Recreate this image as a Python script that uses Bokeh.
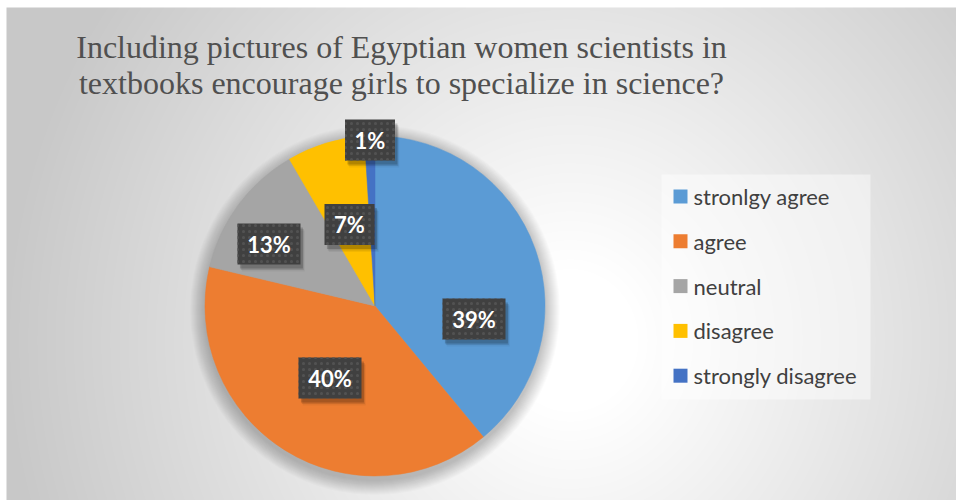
import numpy as np
from bokeh.plotting import figure
from bokeh.models import Range1d
from bokeh.core.properties import value
from bokeh.embed import file_html
from bokeh.resources import INLINE

# ---------------- data ----------------
categories = ["stronlgy agree", "agree", "neutral", "disagree", "strongly disagree"]
values = [39.0, 39.7, 12.9, 7.4, 1.0]
title_lines = ["Including pictures of Egyptian women scientists in",
               "textbooks encourage girls to specialize in science?"]

# ---------------- styles / layout ----------------
colors = ["#5B9BD5", "#ED7D31", "#A5A5A5", "#FFC000", "#4472C4"]
W, H = 956, 500
def py(y):              # page y -> data y
    return H - y

CX, CY, R = 374.5, 305.5, 170
label_dx = [99, -45, -106, -25.5, -5]
label_dy = [13, 72, -62, -81.5, -166]

p = figure(width=W, height=H, output_backend="svg", toolbar_location=None,
           x_range=Range1d(0, W), y_range=Range1d(0, H),
           x_axis_type=None, y_axis_type=None, min_border=0)
p.outline_line_color = None
p.background_fill_color = "#ffffff"
p.border_fill_color = "#ffffff"
p.grid.visible = False

# background radial gradient (chart area starts at page (6,7))
BX, BY = 6, 7
BW, BH = W - BX, H - BY
xs = BX + np.arange(BW) + 0.5
ys_page = H - (np.arange(BH) + 0.5)
XX, YY = np.meshgrid(xs, ys_page)
gcx, gcy, rx, ry = 570, 340, 570, 600
d = np.sqrt(((XX - gcx) / rx) ** 2 + ((YY - gcy) / ry) ** 2)
t = np.clip((d - 0.12) / 0.88, 0, 1)
g = (255 - (255 - 200) * t).astype(np.uint8)
rgba = np.empty((BH, BW, 4), dtype=np.uint8)
rgba[..., 0] = g
rgba[..., 1] = g
rgba[..., 2] = g
rgba[..., 3] = 255
img = rgba.view(dtype=np.uint32).reshape(BH, BW)
p.image_rgba(image=[img], x=BX, y=0, dw=BW, dh=BH)

# title
p.text(x=[401, 401], y=[py(46), py(82)], text=title_lines,
       text_align="center", text_baseline="alphabetic",
       text_font=value("Liberation Serif"), text_font_size="32px",
       text_color="#505050")

# pie shadow
for k in range(1, 16):
    p.circle(x=[CX], y=[py(CY + 4)], radius=R + k, fill_color="black",
             fill_alpha=0.014, line_color=None)

# pie
total = sum(values)
cum = np.cumsum([0] + values) / total
starts = [np.pi / 2 - 2 * np.pi * cum[i] for i in range(len(values))]
ends = [np.pi / 2 - 2 * np.pi * cum[i + 1] for i in range(len(values))]
p.wedge(x=[CX] * len(values), y=[py(CY)] * len(values), radius=R,
        start_angle=starts, end_angle=ends, direction="clock",
        fill_color=colors, line_color=colors, line_width=0.5)

# data labels
labels = [f"{round(v / total * 100)}%" for v in values]
lx = [CX + dx for dx in label_dx]
ly = [py(CY + dy) for dy in label_dy]
bw = [24 + 13 * len(s) for s in labels]
for off, a in [(4, 0.18), (5.5, 0.10), (7, 0.05)]:
    p.rect(x=[v + off * 0.6 for v in lx], y=[v - off for v in ly], width=bw, height=41,
           fill_color="black", fill_alpha=a, line_color=None)
p.rect(x=lx, y=ly, width=bw, height=41, fill_color="#404040", line_color=None,
       hatch_pattern="dot", hatch_color="#525252", hatch_scale=6, hatch_weight=1.5)
p.text(x=lx, y=ly, text=labels, text_align="center", text_baseline="middle",
       text_font=value("Lato"), text_font_style="bold", text_font_size="22px",
       text_color="white")

# legend
p.rect(x=[(661 + 870) / 2], y=[py((174 + 399) / 2)], width=209, height=225,
       fill_color="white", fill_alpha=0.45, line_color=None)
leg_y = [py(196 + i * 44.8) for i in range(len(categories))]
p.rect(x=[680] * len(categories), y=leg_y, width=14, height=14,
       fill_color=colors, line_color=None)
p.text(x=[693] * len(categories), y=leg_y, text=categories,
       text_align="left", text_baseline="middle",
       text_font=value("Lato"), text_font_size="22px", text_color="#404040")

open("out.html", "w").write(file_html(p, INLINE))
